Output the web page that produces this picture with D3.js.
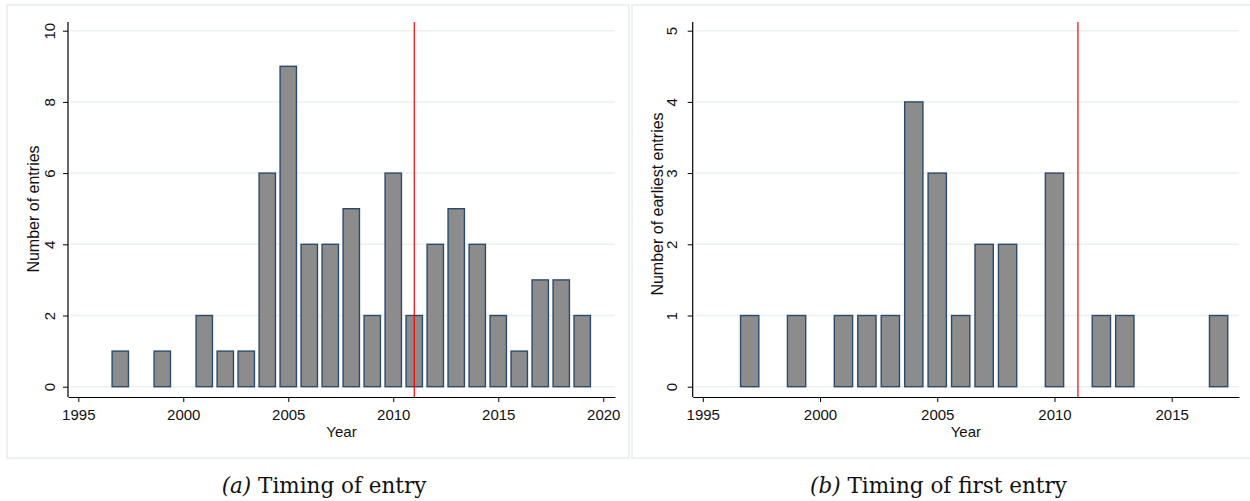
<!DOCTYPE html>
<html>
<head>
<meta charset="utf-8">
<script src="https://cdn.jsdelivr.net/npm/d3@7"></script>
<style>
  body { margin:0; background:white; }
  svg text { font-family: "Liberation Sans", Arial, sans-serif; fill:#111; }
</style>
</head>
<body>
<svg></svg>
<script>
// panel (a): all entries
var yearsA  = [1997,1999,2001,2002,2003,2004,2005,2006,2007,2008,2009,2010,2011,2012,2013,2014,2015,2016,2017,2018,2019];
var countsA = [1,1,2,1,1,6,9,4,4,5,2,6,2,4,5,4,2,1,3,3,2];
var xTicksA = [1995,2000,2005,2010,2015,2020];
var yTicksA = [0,2,4,6,8,10];

// panel (b): first entries
var yearsB  = [1997,1999,2001,2002,2003,2004,2005,2006,2007,2008,2010,2012,2013,2017];
var countsB = [1,1,1,1,1,4,3,1,2,2,3,1,1,1];
var xTicksB = [1995,2000,2005,2010,2015];
var yTicksB = [0,1,2,3,4,5];

var cutoffYear = 2011;

var screen = {width:1250, height:501};
var svg = d3.select("svg")
  .attr("width", screen.width)
  .attr("height", screen.height);

var drawPanel = function(opt)
{
  // light outer frame like stata graph region
  svg.append("rect")
    .attr("x", opt.frame[0]).attr("y", 5)
    .attr("width", opt.frame[1]-opt.frame[0]).attr("height", 453)
    .attr("fill","none").attr("stroke","#e6eef0").attr("stroke-width",1.5);

  var xScale = d3.scaleLinear().domain(opt.xDomain).range([opt.left, opt.right]);
  var yScale = d3.scaleLinear().domain([0, opt.yMax]).range([386.7, 30.7]);
  var step = xScale(1) - xScale(0);
  var bw = step*0.78;

  var g = svg.append("g");

  // gridlines
  g.selectAll(".grid")
    .data(opt.yTicks)
    .enter()
    .append("line")
    .attr("x1", opt.left+2).attr("x2", opt.right)
    .attr("y1", function(d){ return yScale(d)})
    .attr("y2", function(d){ return yScale(d)})
    .attr("stroke","#eaf2f3").attr("stroke-width",1.5);

  // bars
  g.selectAll(".bar")
    .data(opt.years)
    .enter()
    .append("rect")
    .attr("x", function(d){ return xScale(d)-bw/2})
    .attr("y", function(d,i){ return yScale(opt.counts[i])})
    .attr("width", bw)
    .attr("height", function(d,i){ return yScale(0)-yScale(opt.counts[i])})
    .attr("fill","#8c8c8c")
    .attr("stroke","#2c4a6b").attr("stroke-width",1.4);

  // cutoff line
  g.append("line")
    .attr("x1", xScale(cutoffYear)).attr("x2", xScale(cutoffYear))
    .attr("y1", 22).attr("y2", 397)
    .attr("stroke","#ff0000").attr("stroke-width",1.2);

  // y axis
  var yAxis = d3.axisLeft(yScale).tickValues(opt.yTicks).tickSize(5).tickSizeOuter(0).tickFormat(d3.format("d"));
  var ya = svg.append("g")
    .attr("transform","translate("+opt.left+",0)")
    .call(yAxis);
  ya.select(".domain").attr("d","M0,22V397").attr("stroke","#000").attr("stroke-width",1.2);
  ya.selectAll(".tick line").attr("stroke","#000");
  ya.selectAll(".tick text")
    .attr("x",0).attr("dy",0)
    .attr("transform","translate("+(-opt.yLabOff)+",0) rotate(-90)")
    .attr("text-anchor","middle")
    .style("font-size","15px")
    .style("font-family","Liberation Sans, Arial, sans-serif")
    .attr("fill","#111");

  // x axis
  var xAxis = d3.axisBottom(xScale).tickValues(opt.xTicks).tickSize(5).tickSizeOuter(0).tickFormat(d3.format("d"));
  var xa = svg.append("g")
    .attr("transform","translate(0,397)")
    .call(xAxis);
  xa.select(".domain").attr("stroke","#000").attr("stroke-width",1.2);
  xa.selectAll(".tick line").attr("stroke","#000");
  xa.selectAll(".tick text")
    .attr("y",12)
    .style("font-size","15px")
    .style("font-family","Liberation Sans, Arial, sans-serif")
    .attr("fill","#111");

  // titles
  svg.append("text")
    .attr("x", (opt.left+opt.right)/2).attr("y", 437)
    .attr("text-anchor","middle")
    .style("font-size","15px")
    .text("Year");

  svg.append("text")
    .attr("transform","translate("+(opt.left-opt.yTitleOff)+","+opt.yTitleMid+") rotate(-90)")
    .attr("text-anchor","middle")
    .style("font-size","16px")
    .text(opt.yTitle);

  var cap = svg.append("text")
    .attr("x", opt.capX).attr("y", 493)
    .attr("text-anchor","middle")
    .style("font-family","DejaVu Serif, serif")
    .style("font-size","21.5px");
  cap.append("tspan").style("font-style","italic").text(opt.capTag);
  cap.append("tspan").text(" " + opt.caption);
}

drawPanel({
  years:yearsA, counts:countsA, xTicks:xTicksA, yTicks:yTicksA, yMax:10,
  xDomain:[1994.51,2020.56], left:68, right:615, frame:[7,629],
  yLabOff:13, yTitleOff:29, yTitleMid:209,
  yTitle:"Number of entries", capTag:"(a)", caption:"Timing of entry", capX:324
});

drawPanel({
  years:yearsB, counts:countsB, xTicks:xTicksB, yTicks:yTicksB, yMax:5,
  xDomain:[1994.57,2017.87], left:692.7, right:1239, frame:[632,1252],
  yLabOff:16, yTitleOff:30, yTitleMid:204,
  yTitle:"Number of earliest entries", capTag:"(b)", caption:"Timing of first entry", capX:938.5
});
</script>
</body>
</html>
